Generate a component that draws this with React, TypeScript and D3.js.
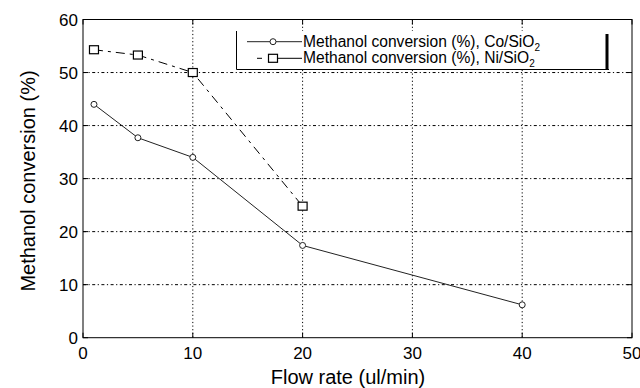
import React from "react";
import * as d3 from "d3";

const xTicks = [0, 10, 20, 30, 40, 50];
const yTicks = [0, 10, 20, 30, 40, 50, 60];
const coFlow = [1, 5, 10, 20, 40];
const coConv = [44.0, 37.7, 34.0, 17.4, 6.2];
const niFlow = [1, 5, 10, 20];
const niConv = [54.3, 53.3, 50.0, 24.8];
const xLabel = "Flow rate (ul/min)";
const yLabel = "Methanol conversion (%)";
const legendCo = "Methanol conversion (%), Co/SiO";
const legendNi = "Methanol conversion (%), Ni/SiO";

const W = 640;
const H = 388;
const L = 83, R = 632, T = 19.5, B = 337.7;

export default function App() {
  const x = d3.scaleLinear().domain([0, 50]).range([L, R]);
  const y = d3.scaleLinear().domain([0, 60]).range([B, T]);
  const line = d3.line<[number, number]>().x((d) => x(d[0])).y((d) => y(d[1]));
  const coPts: [number, number][] = coFlow.map((f, i) => [f, coConv[i]]);
  const niPts: [number, number][] = niFlow.map((f, i) => [f, niConv[i]]);
  const font = "'Liberation Sans', Arial, Helvetica, sans-serif";
  const tl = 5;
  return (
    <svg width={W} height={H} style={{ position: "absolute", left: 0, top: 0, background: "#fff" }} fontFamily={font}>
      <rect x={0} y={0} width={W} height={H} fill="#fff" />
      {/* grid */}
      {xTicks.slice(1, -1).map((t) => (
        <line key={"gx" + t} x1={x(t)} x2={x(t)} y1={T} y2={B} stroke="#000" strokeWidth={1} strokeDasharray="1.2,2.4" />
      ))}
      {yTicks.slice(1, -1).map((t) => (
        <line key={"gy" + t} x1={L} x2={R} y1={y(t)} y2={y(t)} stroke="#000" strokeWidth={1} strokeDasharray="3,2.5,1.2,2.5" />
      ))}
      {/* ticks */}
      {xTicks.map((t) => (
        <g key={"tx" + t}>
          <line x1={x(t)} x2={x(t)} y1={B} y2={B - tl} stroke="#000" />
          <line x1={x(t)} x2={x(t)} y1={T} y2={T + tl} stroke="#000" />
          <text x={x(t)} y={358.5} textAnchor="middle" fontSize={17}>{t}</text>
        </g>
      ))}
      {yTicks.map((t) => (
        <g key={"ty" + t}>
          <line x1={L} x2={L + tl} y1={y(t)} y2={y(t)} stroke="#000" />
          <line x1={R} x2={R - tl} y1={y(t)} y2={y(t)} stroke="#000" />
          <text x={78} y={y(t) + 6} textAnchor="end" fontSize={17}>{t}</text>
        </g>
      ))}
      <rect x={L} y={T} width={R - L} height={B - T} fill="none" stroke="#000" strokeWidth={1} />
      {/* legend */}
      <rect x={236.5} y={31} width={370} height={38} fill="#fff" />
      <line x1={236.5} x2={236.5} y1={31} y2={69.5} stroke="#000" />
      <line x1={236.5} x2={609} y1={69.5} y2={69.5} stroke="#000" />
      <rect x={605.5} y={34} width={3} height={36} fill="#000" />
      <line x1={247} x2={302} y1={41.7} y2={41.7} stroke="#222" />
      <circle cx={273} cy={41.7} r={3} fill="#fff" stroke="#222" />
      <line x1={257} x2={262} y1={58.3} y2={58.3} stroke="#000" />
      <line x1={268} x2={302} y1={58.3} y2={58.3} stroke="#000" />
      <rect x={268.5} y={54.3} width={9} height={8} fill="#fff" stroke="#000" strokeWidth={1.2} />
      <text x={303} y={46.7} fontSize={15.6}>
        {legendCo}
        <tspan fontSize={10} dy={4}>2</tspan>
      </text>
      <text x={303} y={63.3} fontSize={15.6}>
        {legendNi}
        <tspan fontSize={10} dy={4}>2</tspan>
      </text>
      {/* series */}
      <path d={line(coPts) || ""} fill="none" stroke="#222" strokeWidth={1} />
      {coPts.map((p, i) => (
        <circle key={"c" + i} cx={x(p[0])} cy={y(p[1])} r={3} fill="#fff" stroke="#222" strokeWidth={1} />
      ))}
      <path d={line(niPts) || ""} fill="none" stroke="#000" strokeWidth={1} strokeDasharray="9,5,3,5" />
      {niPts.map((p, i) => (
        <rect key={"n" + i} x={x(p[0]) - 4.5} y={y(p[1]) - 4} width={9} height={8} fill="#fff" stroke="#000" strokeWidth={1.2} />
      ))}
      {/* axis labels */}
      <text x={348} y={384} textAnchor="middle" fontSize={20}>{xLabel}</text>
      <text transform={`translate(34.5,181) rotate(-90)`} textAnchor="middle" fontSize={20}>{yLabel}</text>
    </svg>
  );
}
